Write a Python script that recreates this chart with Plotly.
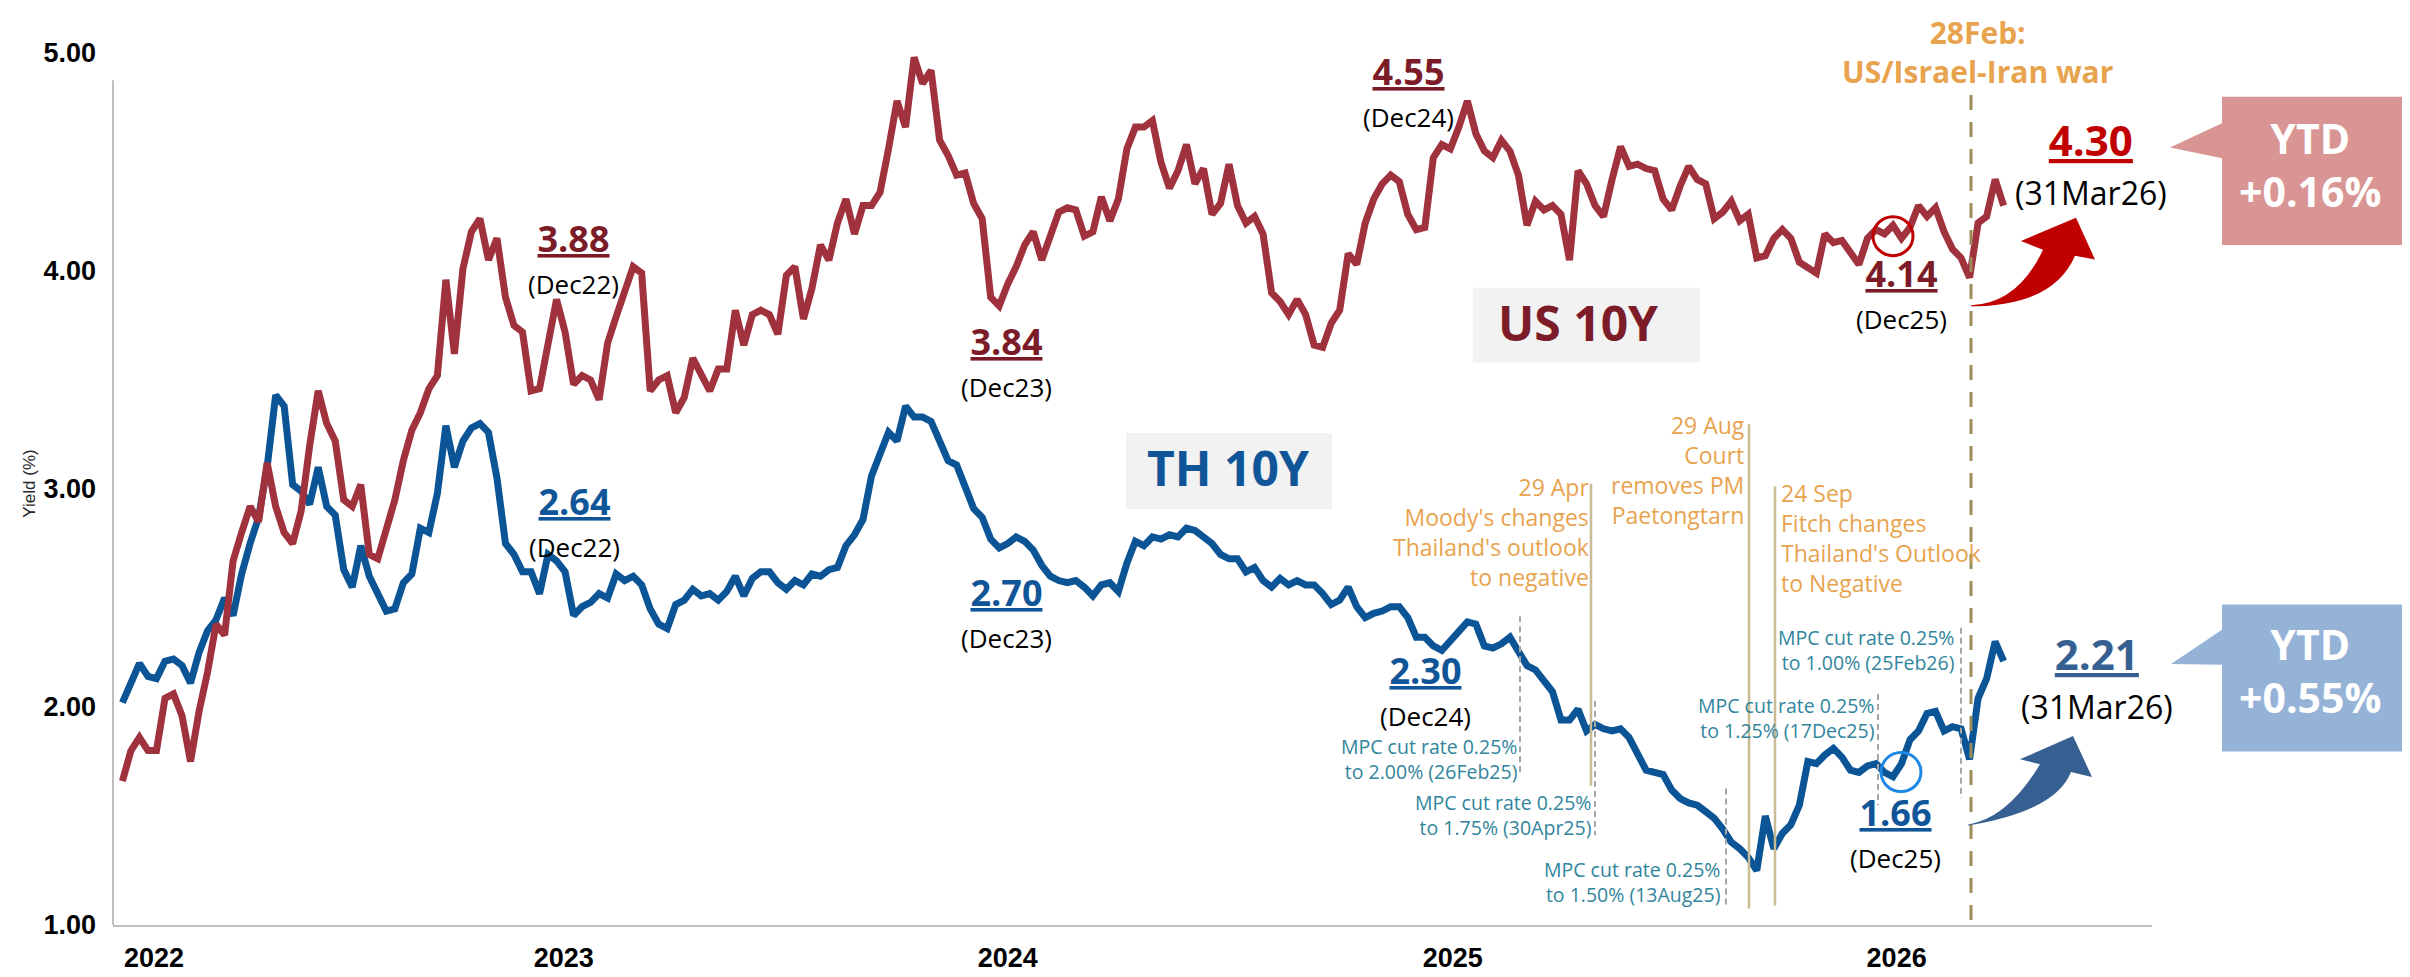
import plotly.graph_objects as go
import pandas as pd

# ---------------- DATA ----------------
start_date = "2022-01-03"   # weekly observations
us_10y = [1.66, 1.80, 1.86, 1.80, 1.80, 2.04, 2.06, 1.96, 1.75, 1.98,
          2.16, 2.38, 2.33, 2.67, 2.80, 2.92, 2.85, 3.12, 2.92, 2.80,
          2.75, 2.90, 3.20, 3.45, 3.30, 3.22, 2.95, 2.92, 3.02, 2.70,
          2.68, 2.82, 2.95, 3.13, 3.27, 3.35, 3.46, 3.52, 3.96, 3.62,
          4.01, 4.18, 4.24, 4.05, 4.15, 3.88, 3.75, 3.72, 3.45, 3.46,
          3.68, 3.87, 3.72, 3.48, 3.52, 3.50, 3.41, 3.67, 3.79, 3.90,
          4.02, 3.99, 3.45, 3.50, 3.52, 3.35, 3.42, 3.60, 3.52, 3.45,
          3.55, 3.55, 3.82, 3.66, 3.80, 3.82, 3.80, 3.71, 3.98, 4.02,
          3.78, 3.92, 4.12, 4.05, 4.22, 4.33, 4.17, 4.30, 4.30, 4.36,
          4.56, 4.78, 4.66, 4.98, 4.86, 4.92, 4.60, 4.53, 4.44, 4.45,
          4.31, 4.24, 3.88, 3.84, 3.94, 4.02, 4.12, 4.18, 4.05, 4.16,
          4.27, 4.29, 4.28, 4.16, 4.18, 4.34, 4.23, 4.33, 4.56, 4.66,
          4.66, 4.69, 4.50, 4.38, 4.46, 4.58, 4.40, 4.47, 4.26, 4.31,
          4.49, 4.30, 4.22, 4.25, 4.17, 3.90, 3.86, 3.80, 3.87, 3.80,
          3.66, 3.65, 3.76, 3.82, 4.08, 4.03, 4.22, 4.33, 4.40, 4.44,
          4.41, 4.26, 4.19, 4.20, 4.52, 4.58, 4.56, 4.66, 4.78, 4.63,
          4.55, 4.52, 4.60, 4.55, 4.44, 4.21, 4.32, 4.28, 4.30, 4.26,
          4.05, 4.46, 4.40, 4.30, 4.25, 4.42, 4.57, 4.48, 4.49, 4.47,
          4.46, 4.33, 4.28, 4.39, 4.48, 4.42, 4.40, 4.24, 4.27, 4.32,
          4.23, 4.26, 4.06, 4.07, 4.15, 4.19, 4.15, 4.04, 4.01, 3.99,
          4.17, 4.13, 4.14, 4.08, 4.03, 4.15, 4.19, 4.17, 4.21, 4.15,
          4.20, 4.30, 4.25, 4.29, 4.18, 4.10, 4.06, 3.97, 4.22, 4.25,
          4.42, 4.30]
th_10y = [2.02, 2.11, 2.20, 2.14, 2.13, 2.21, 2.22, 2.19, 2.11, 2.25,
          2.35, 2.40, 2.50, 2.42, 2.61, 2.75, 2.87, 3.10, 3.43, 3.38,
          3.02, 2.99, 2.93, 3.10, 2.92, 2.88, 2.63, 2.55, 2.74, 2.60,
          2.51, 2.44, 2.45, 2.57, 2.61, 2.82, 2.80, 2.98, 3.29, 3.10,
          3.22, 3.28, 3.30, 3.26, 3.05, 2.75, 2.70, 2.62, 2.62, 2.52,
          2.70, 2.67, 2.62, 2.42, 2.46, 2.48, 2.52, 2.50, 2.61, 2.58,
          2.60, 2.56, 2.45, 2.38, 2.36, 2.47, 2.49, 2.54, 2.51, 2.52,
          2.49, 2.53, 2.60, 2.51, 2.59, 2.62, 2.62, 2.57, 2.54, 2.58,
          2.56, 2.61, 2.60, 2.63, 2.64, 2.74, 2.79, 2.86, 3.06, 3.17,
          3.26, 3.22, 3.38, 3.33, 3.33, 3.31, 3.21, 3.13, 3.11, 3.02,
          2.91, 2.87, 2.77, 2.73, 2.75, 2.78, 2.76, 2.72, 2.65, 2.60,
          2.58, 2.57, 2.58, 2.55, 2.51, 2.56, 2.57, 2.53, 2.66, 2.76,
          2.74, 2.78, 2.77, 2.79, 2.78, 2.82, 2.81, 2.78, 2.75, 2.70,
          2.68, 2.68, 2.62, 2.64, 2.58, 2.55, 2.59, 2.56, 2.58, 2.56,
          2.56, 2.52, 2.47, 2.49, 2.55, 2.46, 2.41, 2.43, 2.44, 2.46,
          2.46, 2.41, 2.32, 2.32, 2.28, 2.26, 2.30, 2.35, 2.39, 2.38,
          2.28, 2.27, 2.29, 2.32, 2.25, 2.19, 2.17, 2.12, 2.07, 1.94,
          1.94, 1.99, 1.89, 1.92, 1.90, 1.89, 1.90, 1.86, 1.79, 1.71,
          1.70, 1.69, 1.62, 1.58, 1.56, 1.55, 1.52, 1.49, 1.44, 1.38,
          1.35, 1.31, 1.25, 1.50, 1.35, 1.42, 1.46, 1.55, 1.75, 1.74,
          1.78, 1.81, 1.77, 1.71, 1.70, 1.73, 1.74, 1.70, 1.68, 1.74,
          1.85, 1.89, 1.97, 1.98, 1.89, 1.91, 1.90, 1.76, 2.04, 2.13,
          2.30, 2.21]
dates = pd.date_range(start_date, periods=len(us_10y), freq="7D")

year_tick_dates = ["2022-01-29", "2023-01-01", "2024-01-01", "2025-01-01", "2026-01-01"]
year_tick_labels = ["2022", "2023", "2024", "2025", "2026"]
y_tick_vals = [1, 2, 3, 4, 5]
y_tick_labels = ["1.00", "2.00", "3.00", "4.00", "5.00"]

mark_periods = ["Dec22", "Dec23", "Dec24", "Dec25"]
us_marks = [3.88, 3.84, 4.55, 4.14]
th_marks = [2.64, 2.70, 2.30, 1.66]
latest_period = "31Mar26"
us_latest, th_latest = 4.30, 2.21
us_ytd, th_ytd = "+0.16%", "+0.55%"

mpc_dates = ["26Feb25", "30Apr25", "13Aug25", "17Dec25", "25Feb26"]
mpc_rates = ["2.00", "1.75", "1.50", "1.25", "1.00"]

# ---------------- STYLE / GEOMETRY ----------------
W, H = 2410, 977
L, R, T, B = 105, 2144, 45, 940
PW, PH = R - L, B - T

def px(x):
    return (x - L) / PW

def py(y):
    return (B - y) / PH

US_LINE = "#A0323E"
TH_LINE = "#0B5496"
US_TXT = "#7B1C28"
TH_TXT = "#0F5597"
RED = "#C00000"
STEEL = "#376092"
ORANGE = "#E8A34F"
TEAL = "#31859C"
TAN = "#C9BC94"
OLIVE = "#9C8C5A"
GREY = "#A6A6A6"
FONT = "Open Sans"
AXFONT = "Liberation Sans Narrow, Arial Narrow, Liberation Sans, Arial"

fig = go.Figure()
fig.add_trace(go.Scatter(x=dates, y=th_10y, mode="lines", name="TH 10Y",
                         line=dict(color=TH_LINE, width=7)))
fig.add_trace(go.Scatter(x=dates, y=us_10y, mode="lines", name="US 10Y",
                         line=dict(color=US_LINE, width=7)))

ann = []

def txt(text, x, y, size, color, xanchor="center", family=FONT, angle=0, align="center"):
    ann.append(dict(text=text, x=px(x), y=py(y), xref="paper", yref="paper",
                    xanchor=xanchor, yanchor="middle", showarrow=False, align=align,
                    borderpad=0, borderwidth=0, textangle=angle,
                    font=dict(size=size, color=color, family=family)))

def block(lines, x, yc, size, color, xanchor):
    txt("<br>".join(lines), x, yc, size, color, xanchor=xanchor, align=xanchor)

def value_label(v, per, x, yc, vsize, psize, color):
    # value (bold, underlined) over its period, one text block
    t = (f"<span style='font-size:{vsize}px'><b><u>{v:.2f}</u></b></span><br>"
         f"<span style='font-size:{psize}px;color:#000000'>({per})</span>")
    txt(t, x, yc, psize + 6, color)

# value labels: (x, center of value, center of period)
us_pos = [(565, 234, 276), (998, 341, 381), (1400, 63, 105), (1893, 271, 312)]
th_pos = [(566, 505, 546), (998, 598, 639), (1417, 678, 720), (1887, 825, 865)]
for v, per, (x, y1, y2) in zip(us_marks, mark_periods, us_pos):
    value_label(v, per, x, (y1 + y2) / 2, 36, 26, US_TXT)
for v, per, (x, y1, y2) in zip(th_marks, mark_periods, th_pos):
    value_label(v, per, x, (y1 + y2) / 2, 36, 26, TH_TXT)

value_label(us_latest, latest_period, 2083, 157, 42, 32, RED)
value_label(th_latest, latest_period, 2089, 685, 42, 32, STEEL)

# series name boxes
txt("<b>US 10Y</b>", 1570, 322, 48, US_TXT)
txt("<b>TH 10Y</b>", 1220, 470, 48, TH_TXT)

# YTD callouts text
txt(f"<b>YTD<br>{us_ytd}</b>", 2302, 159, 41, "#FFFFFF")
txt(f"<b>YTD<br>{th_ytd}</b>", 2302, 679, 41, "#FFFFFF")

# war event
txt("<b>28Feb:<br>US/Israel-Iran war</b>", 1969, 44, 30, ORANGE)

# political / rating events
block(["29 Apr", "Moody's changes", "Thailand's outlook", "to negative"],
      1581, 537, 23, ORANGE, "right")
block(["29 Aug", "Court", "removes PM", "Paetongtarn"],
      1737, 473, 23, ORANGE, "right")
block(["24 Sep", "Fitch changes", "Thailand's Outlook", "to Negative"],
      1773, 543, 23, ORANGE, "left")

# MPC cuts (right edge, center of the two lines)
mpc_text_pos = [(1509, 770), (1583, 827), (1712, 896), (1866, 728), (1946, 658)]
for d, r, (x, y) in zip(mpc_dates, mpc_rates, mpc_text_pos):
    block(["MPC cut rate 0.25%", f"to {r}% ({d})"], x, y, 19.5, TEAL, "right")

# axis title
txt("Yield (%)", 22, 487, 17, "#262626", family="Liberation Sans, Arial", angle=-90)

shapes = []

def vline(x, y0, y1, color, width, dash="solid"):
    shapes.append(dict(type="line", xref="paper", yref="paper",
                       x0=px(x), x1=px(x), y0=py(y0), y1=py(y1),
                       line=dict(color=color, width=width, dash=dash)))

def box(x0, y0, x1, y1, color, layer="below"):
    shapes.append(dict(type="rect", xref="paper", yref="paper", layer=layer,
                       x0=px(x0), x1=px(x1), y0=py(y1), y1=py(y0),
                       fillcolor=color, line=dict(width=0)))

def circ(cx, cy, r, color):
    shapes.append(dict(type="circle", xref="paper", yref="paper",
                       x0=px(cx - r), x1=px(cx + r), y0=py(cy + r), y1=py(cy - r),
                       line=dict(color=color, width=3), fillcolor="rgba(0,0,0,0)"))

def P(x, y):
    return f"{px(x):.5f},{py(y):.5f}"

def poly(pts, color):
    d = "M " + " L ".join(P(x, y) for x, y in pts) + " Z"
    shapes.append(dict(type="path", xref="paper", yref="paper", path=d,
                       fillcolor=color, line=dict(width=0)))

def arrow(tail, c1, n1, w1, tip, w2, n2, c2, tail2, color):
    d = (f"M {P(*tail)} Q {P(*c1)} {P(*n1)} L {P(*w1)} L {P(*tip)} L {P(*w2)} "
         f"L {P(*n2)} Q {P(*c2)} {P(*tail2)} Z")
    shapes.append(dict(type="path", xref="paper", yref="paper", path=d,
                       fillcolor=color, line=dict(width=0)))

# y axis line
vline(L, 73, B, "#BFBFBF", 2)

# name boxes
box(1465, 286, 1692, 363, "#F2F2F2")
box(1118, 435, 1324, 513, "#F2F2F2")

# event lines
vline(1583, 487, 797, TAN, 2.5)
vline(1741, 426, 923, TAN, 2.5)
vline(1767, 490, 920, TAN, 2.5)

# MPC dashed lines
for x, y0, y1 in [(1512, 623, 787), (1587, 710, 848), (1718, 800, 920),
                  (1870, 703, 817), (1953, 635, 810)]:
    vline(x, y0, y1, GREY, 2, "6px,4px")

# war line
vline(1963, 88, B, OLIVE, 3, "15px,12px")

# circles
circ(1885, 233, 20, RED)
circ(1893, 783, 20, "#1E88E5")

# YTD callouts
poly([(2214, 90), (2394, 90), (2394, 242), (2214, 242), (2214, 153), (2162, 142), (2214, 117)],
     "#D99594")
poly([(2214, 611), (2394, 611), (2394, 762), (2214, 762), (2214, 673), (2163, 672), (2214, 637)],
     "#95B3D7")

# curved arrows
arrow((1963, 304), (2010, 302), (2035, 247), (2013, 238), (2068, 214), (2087, 257),
      (2067, 253), (2045, 305), (1963, 305), RED)
arrow((1960, 837), (2000, 830), (2032, 775), (2012, 770), (2065, 746), (2084, 788),
      (2063, 783), (2048, 823), (1960, 838), STEEL)

fig.update_layout(
    width=W, height=H, autosize=False,
    margin=dict(l=L, r=W - R, t=T, b=H - B, pad=0),
    plot_bgcolor="white", paper_bgcolor="white",
    showlegend=False,
    annotations=ann, shapes=shapes,
    xaxis=dict(type="date", range=["2021-12-26 06:00", "2026-07-30"],
               tickvals=year_tick_dates, ticktext=year_tick_labels,
               showgrid=False, zeroline=False, showline=True,
               linecolor="#BFBFBF", linewidth=2, ticks="",
               ticklabelstandoff=8,
               tickfont=dict(family=AXFONT, size=27, color="#000000", weight="bold")),
    yaxis=dict(range=[1, 5], tickvals=y_tick_vals, ticktext=y_tick_labels,
               showgrid=False, zeroline=False, showline=False, ticks="",
               ticklabelstandoff=16,
               tickfont=dict(family=AXFONT, size=27, color="#000000", weight="bold")),
)

fig.write_html("out.html")
